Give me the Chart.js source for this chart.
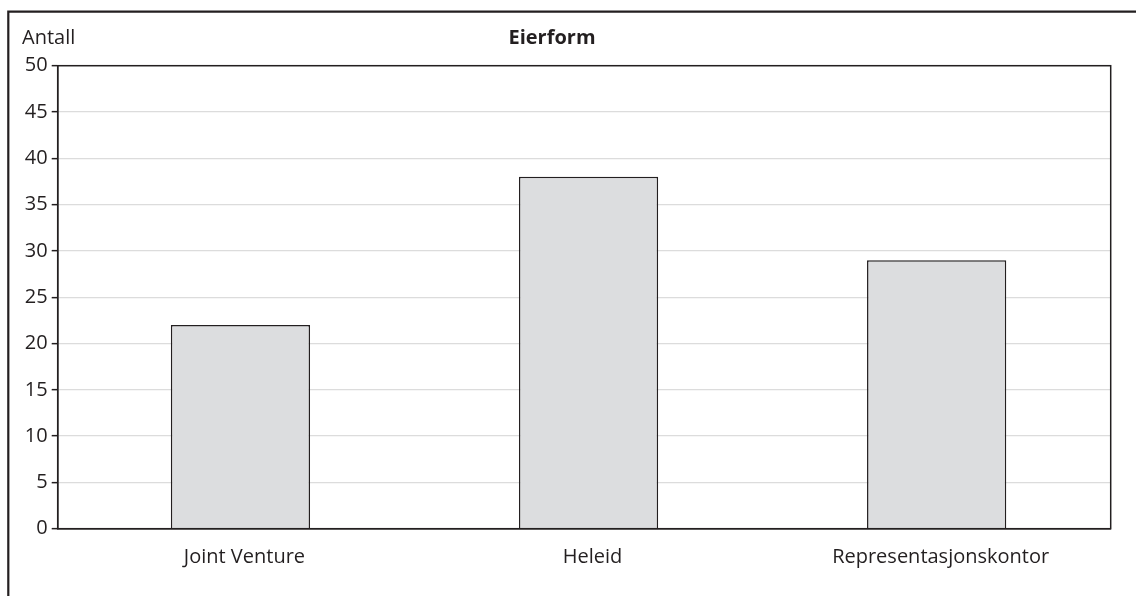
<!DOCTYPE html>
<html>
<head>
<meta charset="utf-8">
<script src="https://cdn.jsdelivr.net/npm/chart.js@4/dist/chart.umd.min.js"></script>
<style>
  html, body { margin: 0; padding: 0; background: #ffffff; }
  #wrap { width: 1136px; height: 596px; position: relative; }
</style>
</head>
<body>
<div id="wrap"><canvas id="chart" width="1136" height="596"></canvas></div>
<script>
// Eierform: antall enheter per eierform
const categories = ['Joint Venture', 'Heleid', 'Representasjonskontor'];
const antall = [22, 38, 29];
const yMin = 0;
const yMax = 50;
const yStep = 5;

const axisTitle = 'Antall';
const chartTitle = 'Eierform';

const ink = '#231f20';
const fontFamily = '"Open Sans", "Noto Sans", sans-serif';

// category positions on a numeric axis, so the first slot can sit a little in from the value axis
const points = antall.map((v, i) => ({ x: i, y: v }));

// Frame around the panel, plot box and header texts
const framePlugin = {
  id: 'frame',
  beforeDraw(chart) {
    const ctx = chart.ctx;
    ctx.save();
    ctx.fillStyle = '#ffffff';
    ctx.fillRect(0, 0, chart.width, chart.height);
    ctx.restore();
  },
  afterDraw(chart) {
    const ctx = chart.ctx;
    const a = chart.chartArea;
    ctx.save();
    // outer panel lines
    ctx.strokeStyle = ink;
    ctx.lineWidth = 2.2;
    ctx.beginPath();
    ctx.moveTo(8.3, chart.height);
    ctx.lineTo(8.3, 11.7);
    ctx.lineTo(chart.width, 11.7);
    ctx.stroke();
    // plot box
    ctx.lineWidth = 1.5;
    ctx.strokeRect(a.left, a.top, a.right - a.left, a.bottom - a.top);
    // header texts
    ctx.fillStyle = ink;
    ctx.textBaseline = 'alphabetic';
    ctx.textAlign = 'left';
    ctx.font = '20px ' + fontFamily;
    ctx.fillText(axisTitle, 22, 43.5);
    ctx.textAlign = 'center';
    ctx.font = 'bold 20px ' + fontFamily;
    ctx.fillText(chartTitle, 552, 43.5);
    ctx.restore();
  }
};

new Chart(document.getElementById('chart'), {
  type: 'bar',
  data: {
    datasets: [{
      data: points,
      backgroundColor: '#dcdddf',
      borderColor: ink,
      borderWidth: 1.5,
      borderSkipped: 'bottom',
      barPercentage: 0.4,
      categoryPercentage: 1.0
    }]
  },
  options: {
    responsive: false,
    animation: false,
    devicePixelRatio: 1,
    layout: { padding: { top: 65.7, right: 25.3, bottom: 0, left: 0 } },
    plugins: {
      legend: { display: false },
      tooltip: { enabled: false },
      title: { display: false }
    },
    scales: {
      x: {
        type: 'linear',
        offset: false,
        min: -0.525,
        max: categories.length - 0.5,
        afterFit(scale) { scale.height = 67.3; },
        afterBuildTicks(scale) {
          scale.ticks = categories.map((c, i) => ({ value: i }));
        },
        grid: { display: false, drawTicks: false },
        border: { color: ink, width: 1.5 },
        ticks: {
          color: ink,
          padding: 16.5,
          labelOffset: 4,
          maxRotation: 0,
          autoSkip: false,
          font: { family: fontFamily, size: 20 },
          callback: (value) => categories[value] ?? ''
        }
      },
      y: {
        min: yMin,
        max: yMax,
        afterFit(scale) { scale.width = 57.7; },
        grid: {
          color: '#dcdcdc',
          lineWidth: 1.3,
          tickColor: ink,
          tickLength: 6,
          tickWidth: 1.5
        },
        border: { color: ink, width: 1.5 },
        ticks: {
          stepSize: yStep,
          color: ink,
          padding: 4,
          font: { family: fontFamily, size: 20 }
        }
      }
    }
  },
  plugins: [framePlugin]
});
</script>
</body>
</html>
